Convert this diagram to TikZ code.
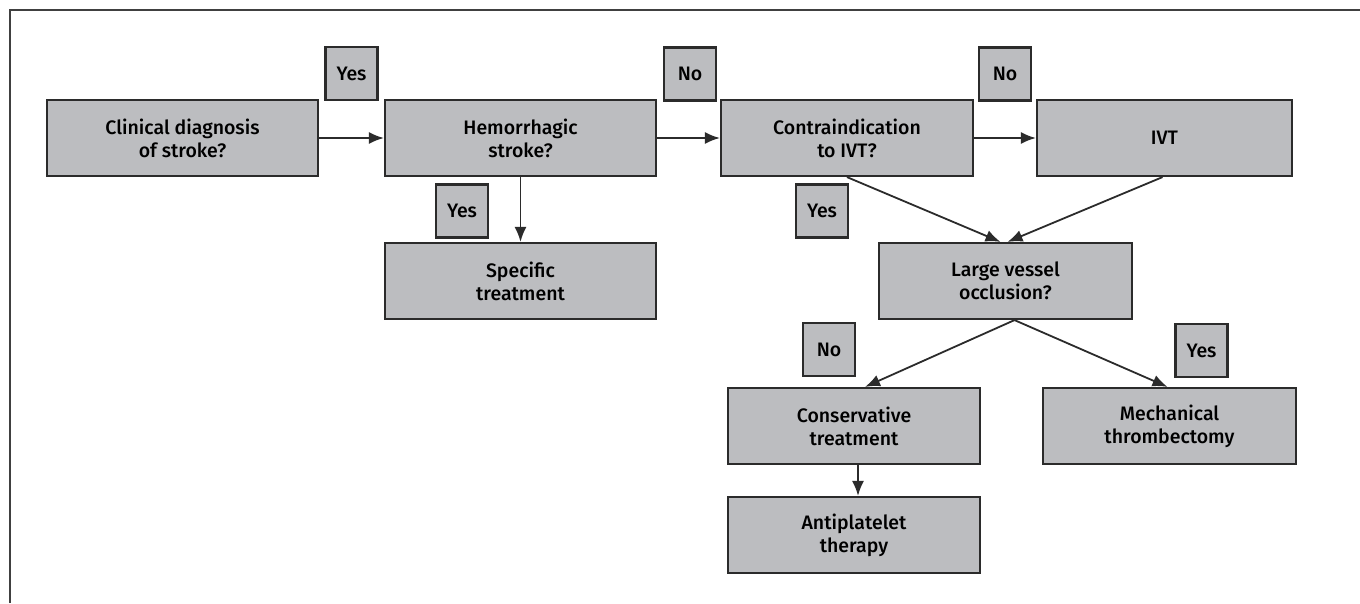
\documentclass[tikz,border=0pt]{standalone}
\usepackage{fontspec}
\setmainfont{Fira Sans}[UprightFont={* Medium}]
\usetikzlibrary{arrows.meta,calc}
\definecolor{boxgray}{HTML}{BCBDC0}
\definecolor{edge}{HTML}{2B2B2B}
\begin{document}
\begin{tikzpicture}[x=1pt, y=-1pt,
    box/.style={draw=edge, line width=2.2pt, fill=boxgray, align=center,
      minimum height=76pt, inner sep=0pt, font=\fontsize{19.5}{23}\selectfont},
    tag/.style={draw=edge, line width=2.2pt, fill=boxgray, minimum width=52pt,
      minimum height=53pt, inner sep=0pt, font=\fontsize{19.5}{23}\selectfont},
    link/.style={draw=edge, line width=1.8pt, -{Latex[length=15pt,width=12pt]}}]
  \useasboundingbox (0,0) rectangle (1360,603);
  % frame
  \draw[line width=1.8pt, draw=black!75] (10,603) -- (10,10) -- (1362,10);
  % node
  \node[box, minimum width=271pt] (clin) at (182.5,138) {Clinical diagnosis\\of stroke?};
  \node[box, minimum width=271pt] (hem) at (520.5,138) {Hemorrhagic\\stroke?};
  \node[box, minimum width=252pt] (contra) at (847,138) {Contraindication\\to IVT?};
  \node[box, minimum width=255pt] (ivt) at (1164.5,138) {IVT};
  \node[box, minimum width=271pt] (spec) at (520.5,281) {Specific\\treatment};
  \node[box, minimum width=253pt] (lvo) at (1005.5,281) {Large vessel\\occlusion?};
  \node[box, minimum width=252pt] (cons) at (854,426) {Conservative\\treatment};
  \node[box, minimum width=253pt] (mech) at (1169.5,426) {Mechanical\\thrombectomy};
  \node[box, minimum width=252pt] (anti) at (854,535) {Antiplatelet\\therapy};
  % tags
  \node[tag] (yesA) at (351.5,73.5) {Yes};
  \node[tag] (noA) at (690,74) {No};
  \node[tag] (noB) at (1005,74) {No};
  \node[tag] (yesB) at (462,211) {Yes};
  \node[tag] (yesC) at (822,211) {Yes};
  \node[tag] (noC) at (829,349.5) {No};
  \node[tag] (yesD) at (1201.5,350.5) {Yes};
  % lines
  \draw[link] (clin) -- (hem);
  \draw[link] (hem) -- (contra);
  \draw[link] (contra) -- (ivt);
  \draw[link] (hem.south) -- (spec.north);
  \draw[link] (contra.south) -- ($(lvo.north)+(-5,0)$);
  \draw[link] ($(ivt.south)+(-2,0)$) -- ($(lvo.north)+(2,0)$);
  \draw[link] ($(lvo.south)+(9,0)$) -- ($(cons.north)+(11,0)$);
  \draw[link] ($(lvo.south)+(9,0)$) -- ($(mech.north)+(-2,0)$);
  \draw[link] ($(cons.south)+(4,0)$) -- ($(anti.north)+(4,0)$);
\end{tikzpicture}
\end{document}
